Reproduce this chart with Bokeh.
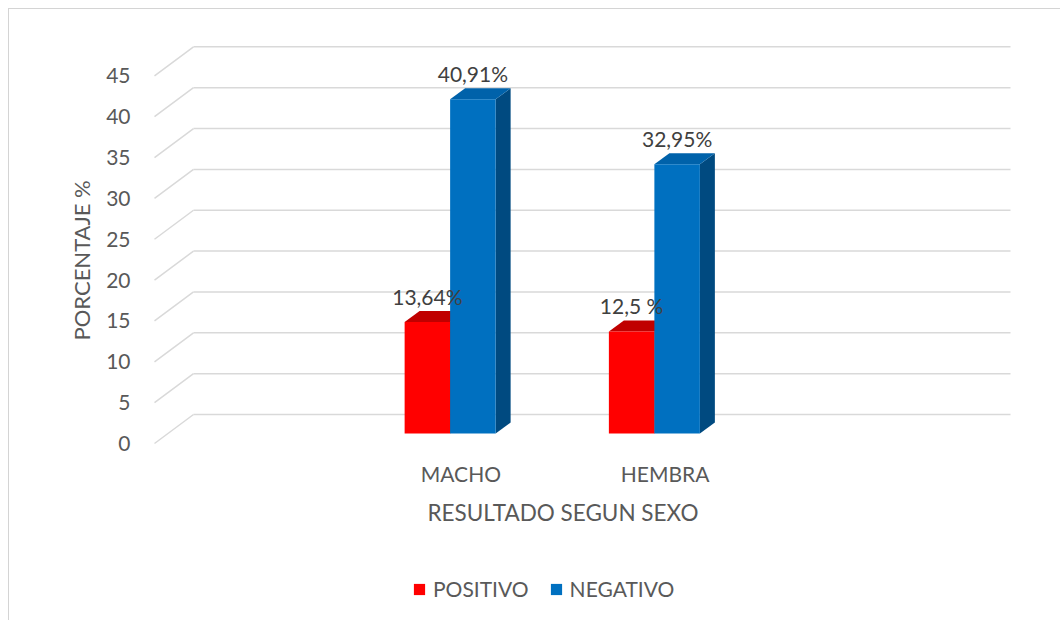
from bokeh.plotting import figure
from bokeh.models import Range1d, FixedTicker, Legend, LegendItem, Title
from bokeh.embed import file_html
from bokeh.resources import INLINE
from bokeh.core.properties import value

# ---------------- data ----------------
categories = ["MACHO", "HEMBRA"]
cat_pos = [1, 2]                      # slots on a 4-slot category axis (0 and 3 empty)
series = ["POSITIVO", "NEGATIVO"]
positivo = [13.64, 12.5]
negativo = [40.91, 32.95]
positivo_labels = ["13,64%", "12,5 %"]
negativo_labels = ["40,91%", "32,95%"]
y_ticks = [0, 5, 10, 15, 20, 25, 30, 35, 40, 45]
x_title = "RESULTADO SEGUN SEXO"
y_title = "PORCENTAJE %"

# ---------------- style / geometry ----------------
FONT = "Lato"
FS = "21px"
AX_COL = "#595959"
LBL_COL = "#404040"
GRID_COL = "#D9D9D9"
PXX = 204.25      # px per category slot
PXY = 8.17        # px per percentage unit
OX, OY = 9, 9     # page position of the canvas (margin + border)
W, H = 1052, 612
FL_PAGE = 140     # frame left on the page

# page x = 154 + PXX*(d + 0.5); page y = 443 - PXY*v
x0 = (FL_PAGE - 154) / PXX - 0.5
x1 = (OX + W - 154) / PXX - 0.5
y1 = (443 - OY) / PXY
y0 = (443 - OY - H) / PXY

p = figure(width=W, height=H, output_backend="svg", toolbar_location=None,
           x_range=Range1d(x0, x1), y_range=Range1d(y0, y1),
           x_axis_location=None,
           min_border_left=FL_PAGE - OX, min_border_right=0, min_border_top=0,
           min_border_bottom=0)
p.styles = {"margin-left": "8px", "margin-top": "8px",
            "border-left": "1px solid #D4D4D4", "border-top": "1px solid #D4D4D4"}
p.grid.visible = False
p.outline_line_color = None
p.background_fill_color = "white"
p.border_fill_color = "white"

# ---- 3D-ish gridlines: diagonal side lines + back wall lines ----
gdx = 39 / PXX
gdy = 29 / PXY
front_left = -0.5
back_right = 3.5 + gdx
n = len(y_ticks)
p.segment(x0=[front_left] * n, y0=y_ticks,
          x1=[front_left + gdx] * n, y1=[t + gdy for t in y_ticks],
          line_color=GRID_COL, line_width=1.5)
p.segment(x0=[front_left + gdx] * n, y0=[t + gdy for t in y_ticks],
          x1=[back_right] * n, y1=[t + gdy for t in y_ticks],
          line_color=GRID_COL, line_width=1.5)

# ---- bars ----
base = 10 / PXY
bw = 45.5 / PXX
ddx = 15 / PXX
ddy = 11 / PXY
specs = [
    ("POSITIVO", positivo, positivo_labels, -33.5 / PXX, "#FF0000", "#C00000", "#A00000"),
    ("NEGATIVO", negativo, negativo_labels, 12 / PXX, "#0070C0", "#0062AA", "#004A80"),
]
legend_items = []
lab_x, lab_y, lab_t = [], [], []
for name, vals, labels, off, c_front, c_top, c_side in specs:
    xs_c = [c + off for c in cat_pos]
    tops = [base + v for v in vals]
    side_xs, side_ys, top_xs, top_ys = [], [], [], []
    for xc, t in zip(xs_c, tops):
        xl, xr = xc - bw / 2, xc + bw / 2
        side_xs.append([xr, xr + ddx, xr + ddx, xr])
        side_ys.append([base, base + ddy, t + ddy, t])
        top_xs.append([xl, xr, xr + ddx, xl + ddx])
        top_ys.append([t, t, t + ddy, t + ddy])
    p.patches(side_xs, side_ys, fill_color=c_side, line_color=None)
    p.patches(top_xs, top_ys, fill_color=c_top, line_color=None)
    r = p.vbar(x=xs_c, width=bw, bottom=base, top=tops, fill_color=c_front,
               line_color=None)
    legend_items.append(LegendItem(label=name, renderers=[r]))
    lab_x += xs_c
    lab_y += [t + ddy for t in tops]
    lab_t += labels

# data labels drawn after all bars (they overlap neighbouring bars)
p.text(x=lab_x, y=lab_y, text=lab_t, y_offset=-15,
       text_align="center", text_baseline="middle",
       text_font=value(FONT), text_font_size=FS, text_color=LBL_COL)

# ---- category labels and x title (below the floor) ----
p.text(x=cat_pos, y=[0] * len(cat_pos), text=categories, y_offset=30,
       text_align="center", text_baseline="middle",
       text_font=value(FONT), text_font_size=FS, text_color=AX_COL)
p.text(x=[(cat_pos[0] + cat_pos[-1]) / 2], y=[0], text=[x_title], y_offset=69,
       text_align="center", text_baseline="middle",
       text_font=value(FONT), text_font_size="22.5px", text_color=AX_COL)

# ---- y axis ----
p.yaxis.ticker = FixedTicker(ticks=y_ticks)
p.yaxis.axis_line_color = None
p.yaxis.major_tick_line_color = None
p.yaxis.minor_tick_line_color = None
p.yaxis.major_label_standoff = 4
p.yaxis.major_label_text_font = FONT
p.yaxis.major_label_text_font_size = FS
p.yaxis.major_label_text_color = AX_COL

# y title as a rotated title in the left panel, placed along the value axis
ytitle = Title(text=y_title, align="left", offset=281, standoff=18,
               text_font=FONT, text_font_size="22px", text_font_style="normal",
               text_color=AX_COL)
p.add_layout(ytitle, "left")

# ---- legend (inside the frame, below the x title) ----
legend = Legend(items=legend_items, orientation="horizontal", location=(272, 20),
                padding=0, margin=0, spacing=20, label_standoff=7,
                glyph_width=14, glyph_height=14, label_height=14,
                border_line_color=None, background_fill_alpha=0,
                label_text_font=FONT, label_text_font_size=FS,
                label_text_color=AX_COL, label_text_baseline="middle")
p.add_layout(legend, "center")

open("out.html", "w").write(file_html(p, INLINE))
